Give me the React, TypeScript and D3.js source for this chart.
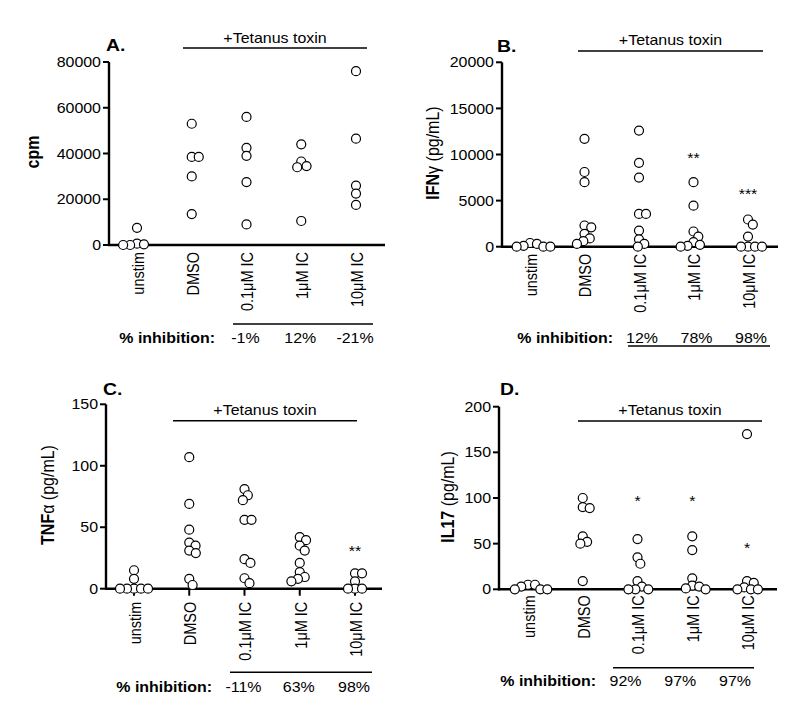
import React from 'react';
import * as d3 from 'd3';

const categories = ['unstim', 'DMSO', '0.1\u03BCM IC', '1\u03BCM IC', '10\u03BCM IC'];

const cpmValues = [
  [7500, 600, 300, 0, 0],
  [53000, 38500, 38500, 30000, 13500],
  [56000, 42500, 39000, 27500, 9000],
  [44000, 36500, 34500, 34000, 10500],
  [76000, 46500, 26000, 22500, 17500],
];
const cpmTicks = [0, 20000, 40000, 60000, 80000];
const cpmInhibition = ['-1%', '12%', '-21%'];

const ifnValues = [
  [400, 300, 100, 0, 0, 0],
  [11700, 8100, 7000, 2300, 2100, 1400, 900, 600, 300],
  [12600, 9100, 7500, 3550, 3550, 1750, 800, 300, 0],
  [7000, 4450, 1650, 1100, 500, 200, 100, 0],
  [2950, 2400, 1100, 0, 0, 0, 0],
];
const ifnTicks = [0, 5000, 10000, 15000, 20000];
const ifnInhibition = ['12%', '78%', '98%'];
const ifnStars = [
  { cat: 3, value: 10000, text: '**' },
  { cat: 4, value: 6000, text: '***' },
];

const tnfValues = [
  [15, 8, 0, 0, 0, 0, 0],
  [107, 69, 48, 37.5, 35, 31, 29, 8, 3],
  [81, 76, 72, 56, 56, 24, 21, 8.5, 4.5],
  [42, 39.5, 35, 31, 21, 13.5, 9.5, 8, 6],
  [12.5, 12.5, 6, 0, 0, 0],
];
const tnfTicks = [0, 50, 100, 150];
const tnfInhibition = ['-11%', '63%', '98%'];
const tnfStars = [{ cat: 4, value: 33, text: '**' }];

const il17Values = [
  [5, 5, 3, 0, 0, 0],
  [100, 90, 89, 58, 52, 50, 9],
  [55, 35, 28, 9, 3, 0, 0, 0],
  [58, 43, 12, 4, 3, 1, 0],
  [170, 9, 7, 2, 0, 0, 0],
];
const il17Ticks = [0, 50, 100, 150, 200];
const il17Inhibition = ['92%', '97%', '97%'];
const il17Stars = [
  { cat: 2, value: 100, text: '*' },
  { cat: 3, value: 100, text: '*' },
  { cat: 4, value: 48, text: '*' },
];

const FONT = '"Liberation Sans", Arial, Helvetica, sans-serif';
const SX = 1.14;

function beeswarm(ys: number[], D: number): number[] {
  const placed: { x: number; y: number }[] = [];
  const out: number[] = [];
  for (const y of ys) {
    const cands = [0];
    for (const p of placed) {
      const dy = Math.abs(p.y - y);
      if (dy < D) {
        const dx = Math.sqrt(D * D - dy * dy);
        cands.push(p.x + dx, p.x - dx);
      }
    }
    cands.sort((a, b) => Math.abs(a) - Math.abs(b) || b - a);
    let chosen = 0;
    for (const c of cands) {
      if (placed.every((p) => (p.x - c) ** 2 + (p.y - y) ** 2 >= D * D - 1e-6)) {
        chosen = c;
        break;
      }
    }
    placed.push({ x: chosen, y });
    out.push(chosen);
  }
  return out;
}

type Part = [string, boolean];

function Txt(props: any) {
  const { x, y, children, anchor = 'start', size = 14, weight = 'normal', rotate = false, baseline = 'auto' } = props;
  return (
    <text
      transform={`translate(${x},${y}) scale(${SX},1)${rotate ? ' rotate(-90)' : ''}`}
      textAnchor={anchor}
      fontSize={size}
      fontWeight={weight}
      fontFamily={FONT}
      dominantBaseline={baseline}
      fill="#000"
    >
      {children}
    </text>
  );
}

function Panel(props: any) {
  const c = props.cfg;
  const y = d3.scaleLinear().domain([0, c.max]).range([c.y0, c.yTop]);
  const x = d3.scalePoint<number>().domain(d3.range(categories.length)).range([c.catStart, c.catEnd]);
  const stars = c.stars || [];
  return (
    <g>
      <Txt x={c.titleX} y={c.titleY} size={17} weight="bold">{c.title}</Txt>
      <line x1={c.tetX1} x2={c.tetX2} y1={c.tetY} y2={c.tetY} stroke="#000" strokeWidth={1.6} />
      <Txt x={(c.tetX1 + c.tetX2) / 2} y={c.tetTextY} anchor="middle" size={14}>+Tetanus toxin</Txt>
      <line x1={c.axisX} x2={c.axisX} y1={c.y0 + 1} y2={c.yTop} stroke="#000" strokeWidth={2.4} />
      {c.ticks.map((t: number) => (
        <g key={t}>
          <line x1={c.axisX - 6} x2={c.axisX} y1={y(t)} y2={y(t)} stroke="#000" strokeWidth={2} />
          <Txt x={c.axisX - 8} y={y(t)} anchor="end" baseline="central" size={14}>{String(t)}</Txt>
        </g>
      ))}
      <text
        transform={`translate(${c.ylabX},${c.ylabY}) scale(${SX},1) rotate(-90)`}
        textAnchor="middle"
        dominantBaseline="central"
        fontSize={16}
        fontFamily={FONT}
      >
        {c.ylabel.map((p: Part, i: number) => (
          <tspan key={i} fontWeight={p[1] ? 'bold' : 'normal'}>{p[0]}</tspan>
        ))}
      </text>
      <line x1={c.axisX - 1} x2={c.xEnd} y1={c.y0} y2={c.y0} stroke="#000" strokeWidth={2.4} />
      {c.xTicks &&
        categories.map((_, i) => (
          <line key={i} x1={x(i)} x2={x(i)} y1={c.y0} y2={c.y0 + 7} stroke="#000" strokeWidth={2} />
        ))}
      {categories.map((name, i) => (
        <Txt key={name} x={(x(i) as number) + 1} y={c.y0 + c.labGap} anchor="end" baseline="central" size={14.5} rotate>
          {name}
        </Txt>
      ))}
      {c.values.map((vals: number[], i: number) => {
        const ys = vals.map((v) => y(v));
        const offs = beeswarm(ys, 7);
        return (
          <g key={i}>
            {vals.map((v, j) => (
              <circle key={j} cx={(x(i) as number) + offs[j]} cy={ys[j]} r={4.5} fill="#fff" stroke="#000" strokeWidth={1.2} />
            ))}
          </g>
        );
      })}
      {stars.map((s: any, i: number) => (
        <Txt key={i} x={x(s.cat)} y={y(s.value) + 8} anchor="middle" size={14}>{s.text}</Txt>
      ))}
      <line x1={c.inhLineX1} x2={c.inhLineX2} y1={c.inhLineY} y2={c.inhLineY} stroke="#000" strokeWidth={1.6} />
      <Txt x={c.inhLabelX} y={c.inhTextY} anchor="end" size={14} weight="bold">% inhibition:</Txt>
      {c.inhibition.map((t: string, i: number) => (
        <Txt key={i} x={(x(i + 2) as number) + c.inhOffset} y={c.inhTextY} anchor="middle" size={14}>{t}</Txt>
      ))}
    </g>
  );
}

const panels = [
  {
    title: 'A.', titleX: 106, titleY: 51,
    values: cpmValues, max: 80000, ticks: cpmTicks, inhibition: cpmInhibition,
    axisX: 109, y0: 245, yTop: 62, xEnd: 385, catStart: 137, catEnd: 356, labGap: 7,
    tetX1: 183, tetX2: 367, tetY: 48, tetTextY: 43,
    ylabel: [['cpm', true]], ylabX: 33, ylabY: 152,
    inhLineX1: 233, inhLineX2: 373, inhLineY: 324, inhTextY: 343, inhLabelX: 215, inhOffset: -1,
    xTicks: false,
  },
  {
    title: 'B.', titleX: 497, titleY: 52,
    values: ifnValues, max: 20000, ticks: ifnTicks, inhibition: ifnInhibition, stars: ifnStars,
    axisX: 502, y0: 246.7, yTop: 62.3, xEnd: 778, catStart: 530, catEnd: 748, labGap: 7,
    tetX1: 578, tetX2: 763, tetY: 51, tetTextY: 45,
    ylabel: [['IFN', true], ['\u03B3', false], [' (pg/mL)', false]], ylabX: 433, ylabY: 153,
    inhLineX1: 628, inhLineX2: 770, inhLineY: 346, inhTextY: 343, inhLabelX: 613, inhOffset: 3,
    xTicks: false,
  },
  {
    title: 'C.', titleX: 103, titleY: 395,
    values: tnfValues, max: 150, ticks: tnfTicks, inhibition: tnfInhibition, stars: tnfStars,
    axisX: 106, y0: 588.7, yTop: 404.3, xEnd: 382, catStart: 134, catEnd: 355, labGap: 13,
    tetX1: 173, tetX2: 357, tetY: 420.7, tetTextY: 415,
    ylabel: [['TNF', true], ['\u03B1', false], ['  (pg/mL)', false]], ylabX: 48, ylabY: 495,
    inhLineX1: 230, inhLineX2: 372, inhLineY: 672.3, inhTextY: 692, inhLabelX: 212, inhOffset: -1,
    xTicks: true,
  },
  {
    title: 'D.', titleX: 500, titleY: 395,
    values: il17Values, max: 200, ticks: il17Ticks, inhibition: il17Inhibition, stars: il17Stars,
    axisX: 499, y0: 589.3, yTop: 406.7, xEnd: 777, catStart: 528, catEnd: 747, labGap: 6,
    tetX1: 578, tetX2: 762, tetY: 421, tetTextY: 415,
    ylabel: [['IL17', true], [' (pg/mL)', false]], ylabX: 448, ylabY: 497,
    inhLineX1: 613, inhLineX2: 754, inhLineY: 667.7, inhTextY: 686, inhLabelX: 596, inhOffset: -12,
    xTicks: false,
  },
];

export default function App() {
  return (
    <svg
      width={800}
      height={715}
      viewBox="0 0 800 715"
      style={{ position: 'absolute', left: 0, top: 0, background: '#fff' }}
    >
      <rect x={0} y={0} width={800} height={715} fill="#fff" />
      {panels.map((p, i) => (
        <Panel key={i} cfg={p} />
      ))}
    </svg>
  );
}
